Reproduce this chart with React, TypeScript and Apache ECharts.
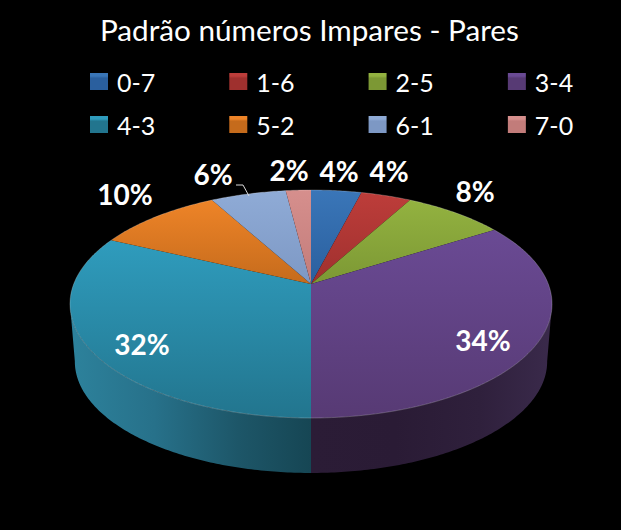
import React, { useEffect, useRef } from "react";
import * as echarts from "echarts";

const titleText = "Padrão números Impares - Pares";
const categories = ["0-7", "1-6", "2-5", "3-4", "4-3", "5-2", "6-1", "7-0"];
const seriesValues = [4, 4, 8, 34, 32, 10, 6, 2];
const valueLabels = ["4%", "4%", "8%", "34%", "32%", "10%", "6%", "2%"];

const topColors = [
  ["#3a76b8", "#2a5f9e"],
  ["#bd3d3a", "#9f302e"],
  ["#93b240", "#7c9834"],
  ["#6a4a94", "#573a74"],
  ["#2f9cbd", "#22758e"],
  ["#ee8428", "#c56b1c"],
  ["#8fabd6", "#7d98c4"],
  ["#d68f8d", "#c27c7a"],
];
const wallColors = [
  ["#1d3d63", "#1d3d63", "#1d3d63", "#1d3d63"],
  ["#622120", "#622120", "#622120", "#622120"],
  ["#4d5e22", "#4d5e22", "#4d5e22", "#4d5e22"],
  ["#2b1c36", "#2a1b35", "#2f203c", "#3a2a4b"],
  ["#2d829c", "#27718a", "#1d5668", "#164654"],
  ["#82481a", "#82481a", "#82481a", "#82481a"],
  ["#55657f", "#55657f", "#55657f", "#55657f"],
  ["#7d4f4e", "#7d4f4e", "#7d4f4e", "#7d4f4e"],
];
const wallStops = [0, 0.35, 0.7, 1];
const labelCenters = [
  [339, 171], [389, 171], [475, 191], [483, 340],
  [142, 344], [125, 194], [213, 174], [289, 170],
];
const leaderSlice = 6;
const leaderPoints = [[236, 185], [243, 185], [249, 196]];

// perspective view of the disc: a circle seen from above
const CX = 311;
const TOP = { a: 237.3, b: 110.5, y0: 284 };
const BOTTOM = { a: 232.5, b: 108, y0: 342 };
const K = 0.1754;
const project = (p: { a: number; b: number; y0: number }, t: number) => {
  const w = 1 + K * Math.cos(t);
  return [CX + (p.a * Math.sin(t)) / w, p.y0 - (p.b * Math.cos(t)) / w];
};
const arc = (p: { a: number; b: number; y0: number }, t0: number, t1: number) => {
  const n = Math.max(2, Math.ceil(Math.abs(t1 - t0) / 0.012));
  const out: number[][] = [];
  for (let i = 0; i <= n; i++) out.push(project(p, t0 + ((t1 - t0) * i) / n));
  return out;
};
const total = seriesValues.reduce((s, v) => s + v, 0);
const WALL_MIN = (100 * Math.PI) / 180;
const WALL_MAX = (260 * Math.PI) / 180;

const legendData = (names: string[]) =>
  names.map((name) => {
    const c = topColors[categories.indexOf(name)];
    return {
      name,
      itemStyle: {
        color: new echarts.graphic.LinearGradient(0, 0, 0, 1, [
          { offset: 0, color: c[0] },
          { offset: 0.18, color: c[0] },
          { offset: 0.3, color: c[1] },
          { offset: 1, color: c[1] },
        ]),
      },
    };
  });

export default function App() {
  const ref = useRef<HTMLDivElement>(null);
  useEffect(() => {
    document.body.style.margin = "0";
    document.body.style.background = "#000";
    const chart = echarts.init(ref.current!, undefined, { renderer: "svg" });
    let cum = 0;
    const series = categories.map((name, i) => {
      const value = seriesValues[i];
      const t0 = (cum / total) * Math.PI * 2;
      cum += value;
      const t1 = (cum / total) * Math.PI * 2;
      return {
        type: "custom",
        name,
        coordinateSystem: "none",
        silent: true,
        z: 2,
        itemStyle: { color: topColors[i][0] },
        data: [[value]],
        renderItem: () => {
          const children: any[] = [];
          const w0 = Math.max(t0, WALL_MIN);
          const w1 = Math.min(t1, WALL_MAX);
          if (w1 > w0) {
            children.push({
              type: "polygon",
              shape: { points: [...arc(TOP, w0, w1), ...arc(BOTTOM, w1, w0)] },
              style: {
                fill: new echarts.graphic.LinearGradient(
                  0, 0, 1, 0,
                  wallStops.map((offset, s) => ({ offset, color: wallColors[i][s] }))
                ),
              },
            });
          }
          children.push({
            type: "polygon",
            shape: { points: [[CX, TOP.y0], ...arc(TOP, t0, t1)] },
            style: {
              fill: new echarts.graphic.LinearGradient(0, 0, 0, 1, [
                { offset: 0, color: topColors[i][0] },
                { offset: 1, color: topColors[i][1] },
              ]),
            },
          });
          children.push({
            type: "polyline",
            shape: { points: arc(TOP, t0, t1) },
            style: { fill: "none", stroke: "rgba(255,255,255,0.22)", lineWidth: 1 },
          });
          if (i === leaderSlice) {
            children.push({
              type: "polyline",
              shape: { points: leaderPoints },
              style: { fill: "none", stroke: "#d9d9d9", lineWidth: 1 },
            });
          }
          children.push({
            type: "text",
            z2: 10,
            style: {
              text: valueLabels[i],
              x: labelCenters[i][0],
              y: labelCenters[i][1],
              fill: "#ffffff",
              font: "bold 28px Lato",
              textAlign: "center",
              textVerticalAlign: "middle",
            },
          });
          return { type: "group", children };
        },
      };
    });

    const legendBase = {
      left: 90,
      padding: 0,
      itemWidth: 18,
      itemHeight: 17,
      itemGap: 74,
      icon: "rect",
      selectedMode: false,
      textStyle: { color: "#ffffff", fontFamily: "Lato", fontSize: 25, padding: [0, 0, 0, 4] },
    };
    chart.setOption({
      animation: false,
      backgroundColor: "#000000",
      title: {
        text: titleText,
        left: 95,
        top: 9,
        textStyle: { color: "#ffffff", fontFamily: "Lato", fontSize: 29.7, fontWeight: "normal" },
      },
      legend: [
        { ...legendBase, top: 69, data: legendData(categories.slice(0, 4)) },
        { ...legendBase, top: 112, data: legendData(categories.slice(4)) },
      ],
      series,
    });
    return () => chart.dispose();
  }, []);
  return <div ref={ref} style={{ width: 621, height: 530 }} />;
}
